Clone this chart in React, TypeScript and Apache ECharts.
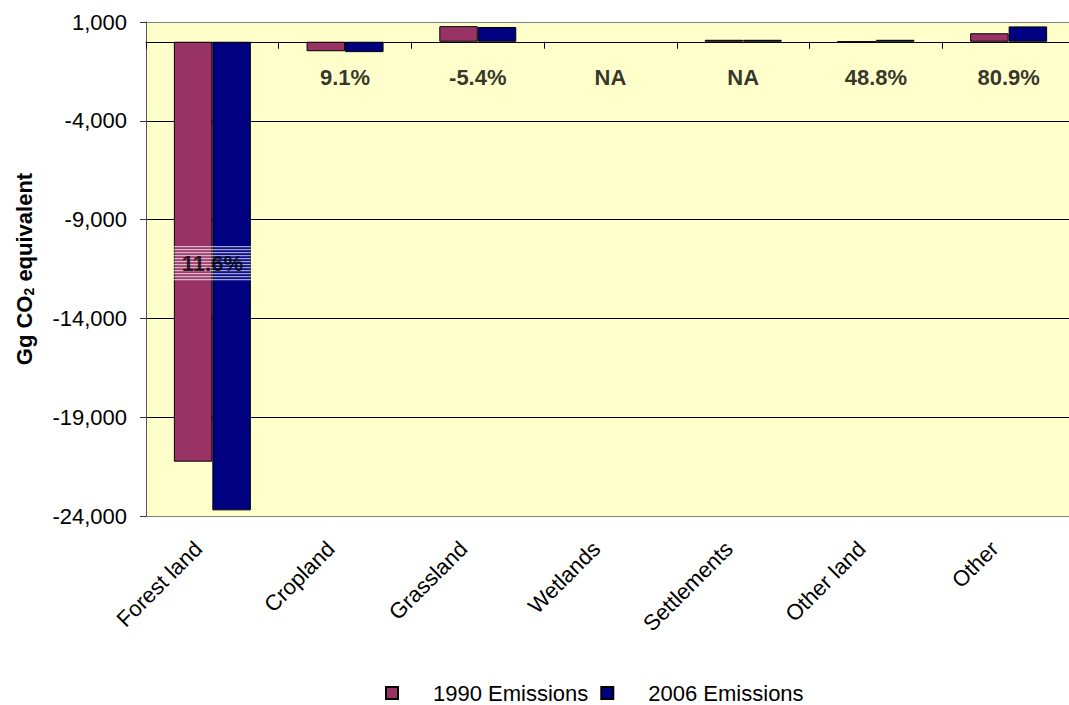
import { useEffect, useRef } from 'react';
import * as echarts from 'echarts';

// Land-use categories and emissions (Gg CO2 equivalent)
const CATEGORIES = ['Forest land', 'Cropland', 'Grassland', 'Wetlands', 'Settlements', 'Other land', 'Other'];
const EMISSIONS_1990: (number | null)[] = [-21250, -480, 790, null, 100, 0, 430];
const EMISSIONS_2006: (number | null)[] = [-23715, -524, 747, null, 100, 100, 778];
const CHANGE_LABELS = ['11.6%', '9.1%', '-5.4%', 'NA', 'NA', '48.8%', '80.9%'];
const SERIES_NAMES = ['1990 Emissions', '2006 Emissions'];
const Y_TICKS = [-24000, -19000, -14000, -9000, -4000, 1000];
const Y_MIN = -24000;
const Y_MAX = 1000;

const FONT = '"Liberation Sans", Arial, Helvetica, sans-serif';
const COLOR_1990 = '#993366';
const COLOR_2006 = '#000080';
const PLOT_BG = '#FFFFCC';

// horizontal white hatching used behind the label that sits on the large bars
function stripeImage(): string {
  let rows = '';
  for (let y = 0; y < 36; y += 3) {
    rows += `<rect x="0" y="${y}" width="80" height="1.4" fill="#ffffff" fill-opacity="0.8"/>`;
  }
  const svg = `<svg xmlns="http://www.w3.org/2000/svg" width="80" height="36" viewBox="0 0 80 36" preserveAspectRatio="none">${rows}</svg>`;
  return 'data:image/svg+xml;charset=utf-8,' + encodeURIComponent(svg);
}

export default function App() {
  const ref = useRef<HTMLDivElement>(null);

  useEffect(() => {
    if (!ref.current) return;
    const chart = echarts.init(ref.current, undefined, { renderer: 'svg' });

    const labelLevel = -1800;
    const labelData = CATEGORIES.map((cat, i) => {
      const a = EMISSIONS_1990[i] ?? 0;
      const b = EMISSIONS_2006[i] ?? 0;
      const onBars = (a + b) / 2 < labelLevel * 2;
      const y = onBars ? (a + b) / 4 : labelLevel;
      const item: any = { value: [cat, y], labelText: CHANGE_LABELS[i] };
      if (onBars) {
        item.label = {
          backgroundColor: { image: stripeImage() },
          padding: [7, 8, 7, 8],
        };
      }
      return item;
    });

    const gridLineColors = Y_TICKS.map((v) => (v === Y_MIN || v === Y_MAX ? '#808080' : '#000000'));

    chart.setOption({
      animation: false,
      textStyle: { fontFamily: FONT },
      grid: {
        left: 146,
        top: 22,
        width: 929,
        height: 494,
        show: true,
        backgroundColor: PLOT_BG,
        borderWidth: 0,
        outerBoundsMode: 'none',
        containLabel: false,
      },
      legend: {
        data: SERIES_NAMES,
        left: 380,
        top: 677,
        icon: 'rect',
        itemWidth: 12,
        itemHeight: 12,
        itemGap: 12,
        textStyle: { fontFamily: FONT, fontSize: 22, color: '#000', padding: [0, 0, 0, 30] },
      },
      xAxis: [
        {
          type: 'category',
          data: CATEGORIES,
          position: 'bottom',
          axisLine: { onZero: false, lineStyle: { color: '#808080', width: 1 } },
          axisTick: { show: false },
          axisLabel: {
            interval: 0,
            rotate: 45,
            margin: 15,
            padding: [0, 20, 0, 0],
            fontFamily: FONT,
            fontSize: 22,
            color: '#000',
          },
        },
        {
          // zero line with its category ticks
          type: 'category',
          data: CATEGORIES,
          position: 'top',
          axisLine: { onZero: true, onZeroAxisIndex: 0, lineStyle: { color: '#000', width: 1 } },
          axisTick: { show: true, inside: true, length: 7, lineStyle: { color: '#000' } },
          axisLabel: { show: false },
          splitLine: { show: false },
        },
      ],
      yAxis: {
        type: 'value',
        min: Y_MIN,
        max: Y_MAX,
        name: 'Gg CO{sub|2} equivalent',
        nameLocation: 'middle',
        nameGap: 110,
        nameTextStyle: {
          fontFamily: FONT,
          fontSize: 22,
          fontWeight: 'bold',
          color: '#000',
          rich: {
            sub: { fontFamily: FONT, fontSize: 14, fontWeight: 'bold', color: '#000', padding: [10, 0, 0, 0] },
          },
        },
        axisLine: { show: true, lineStyle: { color: '#555', width: 1 } },
        axisTick: { show: true, length: 6, customValues: Y_TICKS, lineStyle: { color: '#333' } },
        axisLabel: {
          customValues: Y_TICKS,
          margin: 19,
          fontFamily: FONT,
          fontSize: 22,
          color: '#000',
          formatter: (v: number) => v.toLocaleString('en-US'),
        },
        splitLine: { show: true, lineStyle: { color: gridLineColors, width: 1 } },
      },
      series: [
        {
          name: SERIES_NAMES[0],
          type: 'bar',
          xAxisIndex: 0,
          data: EMISSIONS_1990,
          barWidth: '29%',
          barGap: '0%',
          itemStyle: { color: COLOR_1990, borderColor: '#000', borderWidth: 1 },
        },
        {
          name: SERIES_NAMES[1],
          type: 'bar',
          xAxisIndex: 0,
          data: EMISSIONS_2006,
          barWidth: '29%',
          barGap: '0%',
          itemStyle: { color: COLOR_2006, borderColor: '#000', borderWidth: 1 },
        },
        {
          name: 'change',
          type: 'scatter',
          xAxisIndex: 0,
          symbolSize: 0,
          silent: true,
          z: 5,
          data: labelData,
          label: {
            show: true,
            position: 'inside',
            fontFamily: FONT,
            fontSize: 22,
            fontWeight: 'bold',
            color: '#000',
            formatter: (p: any) => p.data.labelText,
          },
        },
      ],
    });

    return () => chart.dispose();
  }, []);

  return <div ref={ref} style={{ position: 'absolute', left: 0, top: 0, width: 1069, height: 705 }} />;
}
